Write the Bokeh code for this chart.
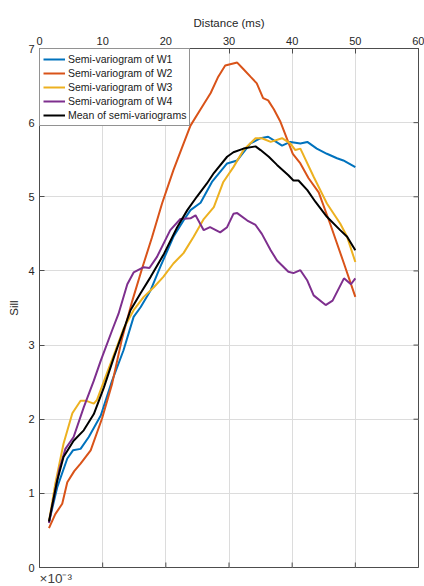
import math

from bokeh.plotting import figure
from bokeh.models import Legend, LegendItem, Range1d, FixedTicker, Title
from bokeh.embed import file_html
from bokeh.resources import INLINE

FONT = "Liberation Sans"

# Semi-variogram of W1
w1_dist = [1.5, 2.8, 4.4, 5.3, 6.5, 7.8, 9.7, 11.5, 13.3, 14.9, 16.0, 17.6, 19.1, 21.2,
           22.8, 23.9, 25.5, 27.3, 29.7, 31.3, 33.4, 35.0, 36.2, 37.1, 38.4, 39.7, 41.3,
           42.4, 43.9, 45.5, 47.1, 48.1, 50.0]
w1_sill = [0.61, 1.08, 1.47, 1.58, 1.60, 1.76, 2.05, 2.52, 2.93, 3.38, 3.51, 3.74, 4.05, 4.46,
           4.68, 4.82, 4.92, 5.20, 5.45, 5.49, 5.72, 5.79, 5.81, 5.76, 5.69, 5.74, 5.72,
           5.74, 5.65, 5.58, 5.52, 5.49, 5.40]

# Semi-variogram of W2
w2_dist = [1.5, 2.5, 3.6, 4.4, 5.5, 6.5, 8.1, 9.9, 11.5, 13.1, 14.7, 16.3, 17.8, 19.4, 21.2,
           22.5, 23.9, 25.5, 27.1, 28.3, 29.4, 31.3, 32.3, 33.4, 34.4, 35.4, 36.2, 37.1,
           38.1, 40.1, 41.3, 42.6, 44.2, 46.0, 48.2, 50.0]
w2_sill = [0.53, 0.72, 0.86, 1.15, 1.30, 1.40, 1.58, 2.01, 2.48, 3.10, 3.60, 4.05, 4.45, 4.91, 5.36,
           5.65, 5.96, 6.18, 6.40, 6.62, 6.77, 6.81, 6.72, 6.62, 6.53, 6.33, 6.30, 6.18,
           6.02, 5.58, 5.45, 5.25, 5.06, 4.64, 4.10, 3.65]

# Semi-variogram of W3
w3_dist = [1.5, 2.5, 3.8, 5.2, 6.5, 7.3, 8.6, 9.1, 10.5, 12.0, 13.3, 14.9, 16.5, 18.1, 19.6,
           21.2, 22.8, 24.4, 26.0, 27.6, 29.1, 30.7, 32.3, 34.2, 35.2, 36.6, 38.4, 39.7,
           40.5, 41.3, 43.4, 45.5, 47.6, 48.7, 50.0]
w3_sill = [0.62, 1.13, 1.67, 2.08, 2.25, 2.25, 2.21, 2.26, 2.58, 2.92, 3.22, 3.47, 3.65, 3.78, 3.92,
           4.10, 4.24, 4.46, 4.70, 4.86, 5.20, 5.40, 5.63, 5.79, 5.79, 5.74, 5.79, 5.72,
           5.63, 5.65, 5.27, 4.91, 4.64, 4.46, 4.12]

# Semi-variogram of W4
w4_dist = [1.5, 3.1, 4.1, 5.4, 7.0, 8.6, 9.7, 11.5, 12.5, 13.9, 14.9, 16.5, 17.4, 18.6, 20.7,
           22.3, 23.9, 24.7, 26.0, 27.0, 28.6, 29.7, 30.7, 31.3, 32.9, 34.2, 35.2, 36.6,
           37.6, 39.4, 40.2, 41.3, 42.4, 43.4, 45.3, 46.4, 48.2, 49.3, 50.0]
w4_sill = [0.60, 1.31, 1.60, 1.76, 2.16, 2.52, 2.79, 3.20, 3.42, 3.82, 3.98, 4.05, 4.04, 4.19, 4.55,
           4.70, 4.71, 4.75, 4.55, 4.59, 4.52, 4.59, 4.77, 4.78, 4.68, 4.62, 4.50, 4.28,
           4.14, 3.99, 3.97, 4.01, 3.87, 3.67, 3.54, 3.60, 3.90, 3.82, 3.90]

# Mean of semi-variograms
mean_dist = [1.5, 2.8, 3.8, 5.4, 7.0, 8.6, 10.2, 11.8, 13.3, 14.4, 16.0, 17.6, 19.7, 21.8,
             23.4, 24.9, 26.5, 27.6, 29.7, 30.7, 32.3, 34.2, 35.0, 36.3, 37.6, 39.4, 40.2,
             41.0, 42.4, 43.7, 45.5, 47.6, 48.7, 50.0]
mean_sill = [0.62, 1.17, 1.49, 1.71, 1.85, 2.07, 2.43, 2.84, 3.20, 3.47, 3.70, 3.92, 4.23, 4.59,
             4.82, 5.00, 5.18, 5.32, 5.54, 5.60, 5.65, 5.68, 5.63, 5.54, 5.43, 5.29, 5.22,
             5.22, 5.09, 4.93, 4.73, 4.55, 4.46, 4.28]

series_names = ["Semi-variogram of W1", "Semi-variogram of W2", "Semi-variogram of W3",
                "Semi-variogram of W4", "Mean of semi-variograms"]
series_colors = ["#0072BD", "#D95319", "#EDB120", "#7E2F8E", "#000000"]
series_data = [(w1_dist, w1_sill), (w2_dist, w2_sill), (w3_dist, w3_sill),
               (w4_dist, w4_sill), (mean_dist, mean_sill)]

x_ticks = [0, 10, 20, 30, 40, 50, 60]
y_ticks = [0, 1, 2, 3, 4, 5, 6, 7]
x_min, x_max = 0, 60
y_min, y_max = 0, 7

AXIS_COLOR = "#4d4d4d"

p = figure(width=424, height=586, x_range=Range1d(x_min, x_max), y_range=Range1d(y_min, y_max),
           x_axis_location="above", output_backend="svg", toolbar_location=None,
           min_border_left=39, min_border_right=6, min_border_top=48, min_border_bottom=19)
p.outline_line_color = AXIS_COLOR
p.outline_line_width = 1

for ax in (p.xaxis[0], p.yaxis[0]):
    ax.major_tick_in = 5
    ax.major_tick_out = 0
    ax.minor_tick_in = 0
    ax.minor_tick_out = 0
    ax.axis_line_color = AXIS_COLOR
    ax.major_tick_line_color = AXIS_COLOR
    ax.major_label_text_font = FONT
    ax.major_label_text_font_size = "11px"
    ax.major_label_text_color = "#262626"
    ax.axis_label_text_font = FONT
    ax.axis_label_text_font_size = "11.5px"
    ax.axis_label_text_font_style = "normal"
    ax.axis_label_text_color = "#262626"

p.xaxis[0].ticker = FixedTicker(ticks=x_ticks)
p.yaxis[0].ticker = FixedTicker(ticks=y_ticks)
p.xaxis[0].axis_label = "Distance (ms)"
p.yaxis[0].axis_label = "Sill"
p.xaxis[0].major_label_standoff = 4
p.xaxis[0].axis_label_standoff = 5
p.yaxis[0].major_label_standoff = 5
p.yaxis[0].axis_label_standoff = 5

p.xgrid.ticker = FixedTicker(ticks=x_ticks)
p.ygrid.ticker = FixedTicker(ticks=y_ticks)
p.grid.grid_line_color = "#dcdcdc"
p.grid.grid_line_width = 1

# inward tick marks along the bottom and right edges of the box (half is clipped away)
p.scatter(x=x_ticks, y=[y_min] * len(x_ticks), marker="dash", size=10, angle=math.pi / 2,
          line_color=AXIS_COLOR, line_width=1)
p.scatter(x=[x_max] * len(y_ticks), y=y_ticks, marker="dash", size=10,
          line_color=AXIS_COLOR, line_width=1)

items = []
for name, color, (xs, ys) in zip(series_names, series_colors, series_data):
    r = p.line(xs, ys, line_color=color, line_width=2)
    items.append(LegendItem(label=name, renderers=[r]))

legend = Legend(items=items, location="top_left", margin=0, padding=3, spacing=0,
                label_height=14, glyph_height=14, glyph_width=22, label_standoff=3,
                label_text_font=FONT, label_text_font_size="10.5px",
                label_text_color="#1a1a1a", border_line_color="#262626",
                border_line_width=1, background_fill_color="white", background_fill_alpha=1)
p.add_layout(legend)

# exponent of the y axis, under the lower-left corner
p.add_layout(Title(text="×10⁻³", align="left", text_font=FONT, text_font_size="13.5px",
                   text_font_style="normal", text_color="#404040", standoff=2, offset=0),
             "below")

open("out.html", "w").write(file_html(p, INLINE))
